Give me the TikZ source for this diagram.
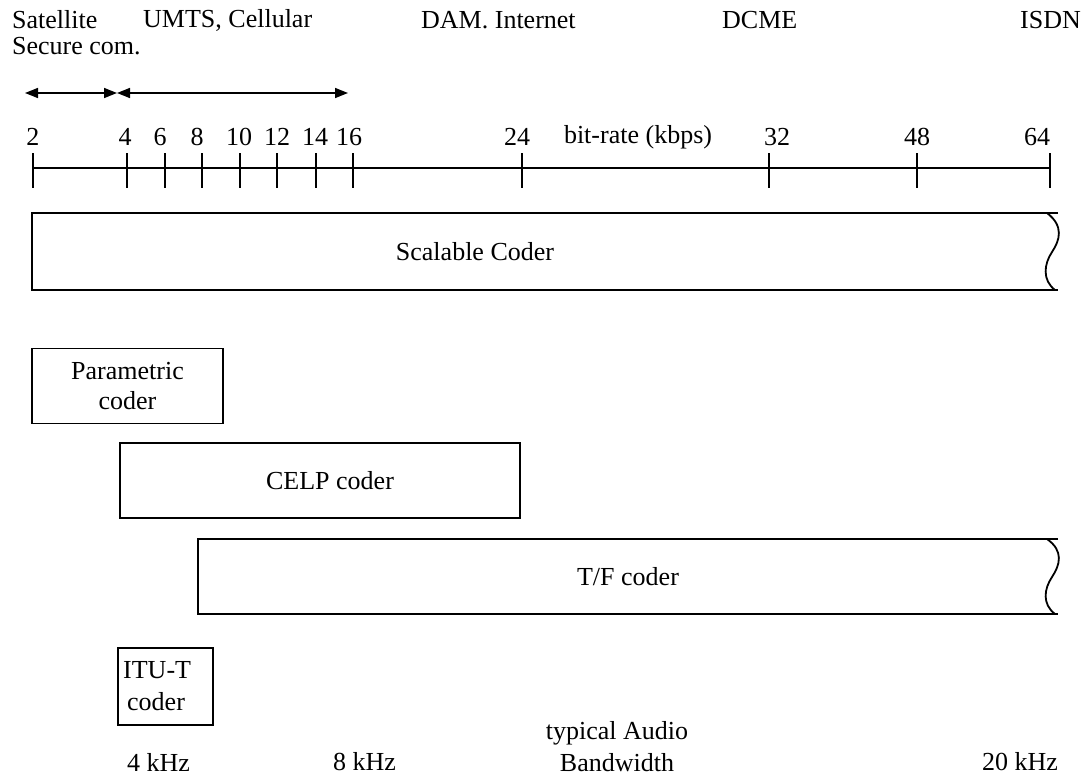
\documentclass[tikz,border=0pt]{standalone}
\usepackage{fontspec}
\setmainfont{Liberation Serif}
\usetikzlibrary{arrows.meta}
\begin{document}
\begin{tikzpicture}[x=1pt,y=-1pt,
  lbl/.style={font=\fontsize{26}{30}\selectfont, inner sep=0pt},
  thick line/.style={line width=1.8pt},
  boxr/.style={draw, line width=1.8pt, inner sep=0pt},
  darrow/.style={line width=1.5pt, {Triangle[length=13pt,width=10pt]}-{Triangle[length=13pt,width=10pt]}}]
\useasboundingbox (0,0) rectangle (1087,782);
% top application labels
\node[lbl, anchor=west] (sat) at (12,20) {Satellite};
\node[lbl, anchor=west] (sec) at (12,46) {Secure com.};
\node[lbl, anchor=west] (umts) at (143,20) {UMTS, Cellular};
\node[lbl, anchor=west] (dam) at (421,20) {DAM. Internet};
\node[lbl, anchor=west] (dcme) at (722,20) {DCME};
\node[lbl, anchor=west] (isdn) at (1020,20) {ISDN};
% range arrows
\coordinate (a1) at (25,93);
\coordinate (a2) at (117,93);
\coordinate (a3) at (348,93);
\draw[darrow] (a1) -- (a2);
\draw[darrow] (a2) -- (a3);
% axis
\coordinate (ax0) at (33,168);
\coordinate (ax1) at (1050,168);
\draw[thick line] (ax0) -- (ax1);
\foreach \x in {33,127,165,202,240,277,316,353,522,769,917,1050}{
  \draw[thick line] (\x,153) -- (\x,188);
}
\node[lbl] (l2) at (33,137) {2};
\node[lbl] (l4) at (125,137) {4};
\node[lbl] (l6) at (160,137) {6};
\node[lbl] (l8) at (197,137) {8};
\node[lbl] (l10) at (239,137) {10};
\node[lbl] (l12) at (277,137) {12};
\node[lbl] (l14) at (315,137) {14};
\node[lbl] (l16) at (349,137) {16};
\node[lbl] (l24) at (517,137) {24};
\node[lbl] (bitrate) at (638,137) {bit-rate (kbps)};
\node[lbl] (l32) at (777,137) {32};
\node[lbl] (l48) at (917,137) {48};
\node[lbl] (l64) at (1037,137) {64};
% Scalable coder (open right end)
\draw[thick line] (1058,213) -- (32,213) -- (32,290) -- (1058,290);
\draw[thick line] (1047,213) .. controls (1064,226) and (1060,240) .. (1052,252)
                             .. controls (1044,264) and (1042,280) .. (1055,290);
\node[lbl] (scal) at (475,252) {Scalable Coder};
% Parametric coder
\node[boxr, minimum width=191pt, minimum height=75pt] (param) at (127.5,386) {};
\node[lbl, align=center] (paramt) at (param.center) {Parametric\\coder};
% CELP coder
\node[boxr, minimum width=400pt, minimum height=75pt] (celp) at (320,480.5) {};
\node[lbl] (celpt) at (330,480.5) {CELP coder};
% T/F coder (open right end)
\draw[thick line] (1058,539) -- (198,539) -- (198,614) -- (1058,614);
\draw[thick line] (1047,539) .. controls (1064,551) and (1060,565) .. (1052,577)
                             .. controls (1044,589) and (1042,604) .. (1055,614);
\node[lbl] (tft) at (628,577) {T/F coder};
% ITU-T coder
\node[boxr, minimum width=95pt, minimum height=77pt] (itu) at (165.5,686.5) {};
\node[lbl, anchor=west] (itut1) at (123,670) {ITU-T};
\node[lbl, anchor=west] (itut2) at (127,702) {coder};
% bandwidth labels
\node[lbl, anchor=west] (k4) at (127,762) {4 kHz};
\node[lbl, anchor=west] (k8) at (333,762) {8 kHz};
\node[lbl] (typ) at (617,733) {typical Audio};
\node[lbl] (bw) at (617,763) {Bandwidth};
\node[lbl, anchor=west] (k20) at (982,762) {20 kHz};
\end{tikzpicture}
\end{document}
